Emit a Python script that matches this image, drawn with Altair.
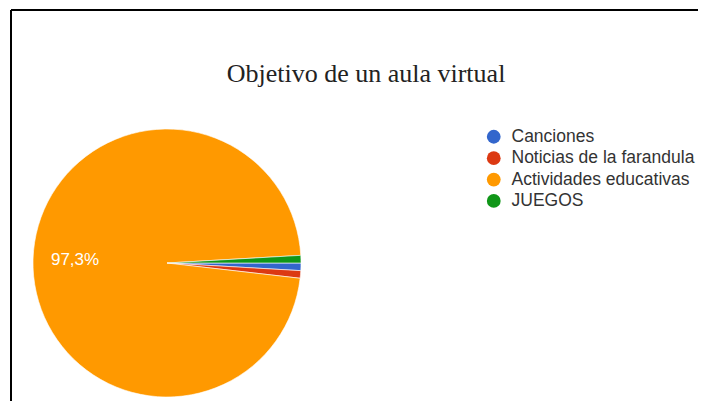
import math
import altair as alt
import pandas as pd

titulo = "Objetivo de un aula virtual"
categorias = ["Canciones", "Noticias de la farandula", "Actividades educativas", "JUEGOS"]
respuestas = [1, 1, 107, 1]
colores = ["#3366CC", "#DC3912", "#FF9900", "#109618"]

total = sum(respuestas)
etiquetas = []
for v in respuestas:
    p = 100.0 * v / total
    etiquetas.append((f"{p:.1f}".replace(".", ",") + "%") if p >= 5 else "")

df = pd.DataFrame({
    "categoria": categorias,
    "valor": respuestas,
    "orden": list(range(len(categorias))),
    "etiqueta": etiquetas,
})

OX, OY = 8, 8  # page margin
CX, CY = 167 - OX, 263 - OY

theta_enc = alt.Theta("valor:Q", stack=True,
                      scale=alt.Scale(range=[math.pi / 2, math.pi / 2 + 2 * math.pi]))
color_enc = alt.Color("categoria:N",
                      scale=alt.Scale(domain=categorias, range=colores),
                      sort=categorias,
                      legend=alt.Legend(orient="none", legendX=477, legendY=135 - OY - 7,
                                        title=None))

base = alt.Chart(df)

pie = base.mark_arc(outerRadius=134, stroke="white", strokeWidth=0.6).encode(
    theta=theta_enc,
    color=color_enc,
    order=alt.Order("orden:Q"),
    x=alt.value(CX),
    y=alt.value(CY),
)

labels = base.mark_text(radius=92, font="Liberation Sans", fontSize=17,
                        color="white").encode(
    theta=theta_enc,
    order=alt.Order("orden:Q"),
    text="etiqueta:N",
    x=alt.value(CX),
    y=alt.value(CY),
)

frame = alt.Data(values=[{"t": titulo}])
title_mark = alt.Chart(frame).mark_text(
    font="Liberation Serif", fontSize=26, color="#222222",
    align="center", baseline="alphabetic",
).encode(text="t:N", x=alt.value(366 - OX), y=alt.value(82 - OY))

left_line = alt.Chart(frame).mark_rule(color="black", strokeWidth=2).encode(
    x=alt.value(11 - OX), y=alt.value(10 - OY), y2=alt.value(409 - OY))
top_line = alt.Chart(frame).mark_rule(color="black", strokeWidth=2).encode(
    x=alt.value(11 - OX), x2=alt.value(706 - OX), y=alt.value(10 - OY))
bottom_line = alt.Chart(frame).mark_rule(color="#e4e4e4", strokeWidth=1).encode(
    x=alt.value(12 - OX), x2=alt.value(706 - OX), y=alt.value(406 - OY))

chart = alt.layer(pie, labels, title_mark, left_line, top_line, bottom_line).properties(
    width=690,
    height=393,
    padding=0,
    autosize=alt.AutoSizeParams(type="none"),
    background="white",
).configure_view(stroke=None).configure_legend(
    symbolType="circle",
    symbolSize=190,
    symbolStrokeWidth=0,
    labelFont="Liberation Sans",
    labelFontSize=17.5,
    labelColor="#333333",
    labelOffset=9,
    rowPadding=2.4,
    padding=0,
    labelLimit=400,
)

chart.save("out.html", embed_options={"renderer": "svg", "actions": False})
